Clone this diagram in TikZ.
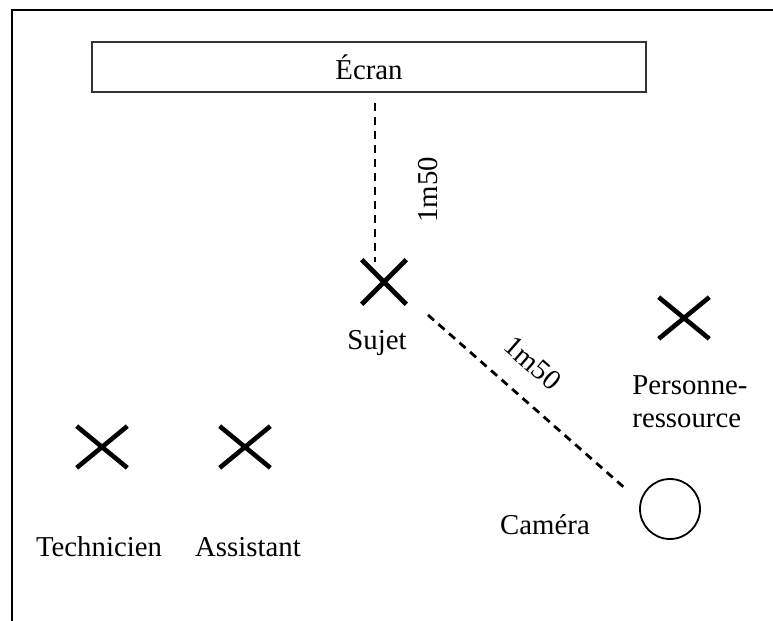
\documentclass[tikz,border=0pt]{standalone}
\usepackage{fontspec}
\setmainfont{Liberation Serif}
\usetikzlibrary{shapes.misc}
\begin{document}
\begin{tikzpicture}[x=0.5pt,y=-0.5pt,
  every node/.style={font=\fontsize{14.4}{16.5}\selectfont},
  person/.style={cross out,draw,line width=2.3pt,minimum width=23pt,minimum height=18.5pt,inner sep=0pt},
  lbl/.style={inner sep=0pt},
  meas/.style={dash pattern=on 4pt off 3pt,line width=1.4pt}]
\useasboundingbox (0,0) rectangle (773,621);
\draw[line width=1.3pt] (773,10) -- (12,10) -- (12,621);
\node[draw,line width=0.9pt,draw=black!80,minimum width=277pt,minimum height=25pt,inner sep=0pt] (ecran) at (369,67) {Écran};
\node[person,minimum width=20pt,minimum height=20pt] (sujet) at (384,282) {};
\node[lbl] (tsujet) at (377,343) {Sujet};
\node[person] (pers) at (684,318) {};
\node[lbl,align=left] (tpers) at (690,402) {Personne-\\ressource};
\node[person] (tech) at (102,447) {};
\node[lbl] (ttech) at (99,547) {Technicien};
\node[person] (asst) at (245,447) {};
\node[lbl] (tasst) at (248,547) {Assistant};
\node[circle,draw,line width=0.9pt,minimum size=30pt,inner sep=0pt] (cam) at (670,509) {};
\node[lbl] (tcam) at (545,525) {Caméra};
\coordinate (a1) at (375,103);
\coordinate (a2) at (375,262);
\coordinate (b1) at (428,315);
\coordinate (b2) at (627,490);
\draw[meas] (a1) -- (a2);
\draw[meas] (b1) -- (b2);
\node[lbl,rotate=90] (m1) at (428,190) {1m50};
\node[lbl,rotate=-41] (m2) at (533,363) {1m50};
\end{tikzpicture}
\end{document}
